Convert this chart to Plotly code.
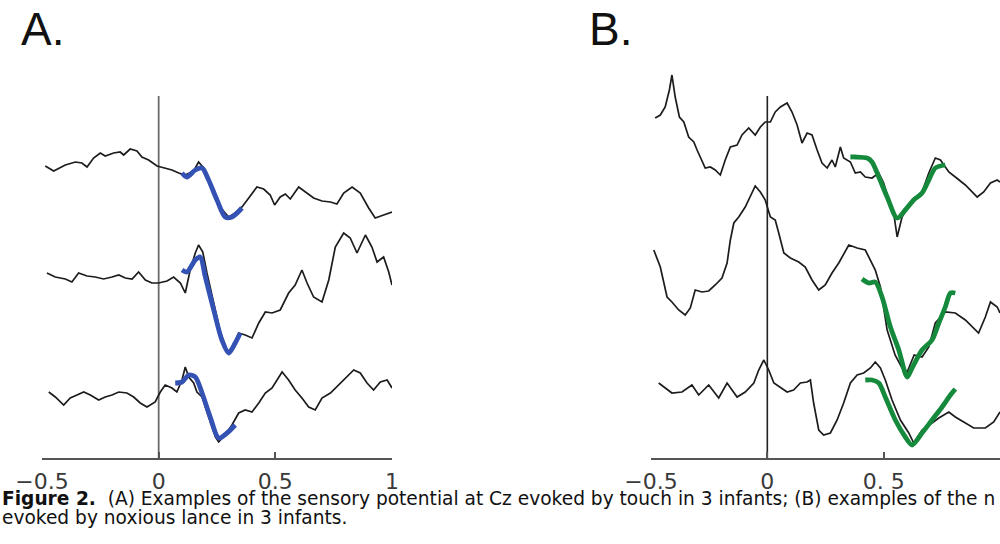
import plotly.graph_objects as go

# ---------------- DATA (time in s, amplitude in arbitrary display units) -------------
# Panel A : touch-evoked potentials (3 infants)
touch1_t = [-0.486, -0.450, -0.400, -0.357, -0.329, -0.307, -0.279, -0.250, -0.229, -0.193,
            -0.165, -0.150, -0.122, -0.093, -0.072, -0.043, -0.007, 0.021, 0.057, 0.086,
            0.114, 0.150, 0.171, 0.200, 0.228, 0.257, 0.285, 0.300, 0.328, 0.357,
            0.386, 0.421, 0.450, 0.478, 0.497, 0.521, 0.543, 0.564, 0.600, 0.628,
            0.664, 0.700, 0.736, 0.764, 0.793, 0.829, 0.864, 0.900, 0.928, 0.964, 1.000]
touch1_v = [292, 287, 293, 296, 295, 291, 300, 305, 302, 305,
            306, 303, 309, 307, 301, 298, 292, 290, 288, 285,
            283, 287, 296, 288, 271, 253, 245, 241, 245, 251,
            260, 271, 269, 263, 253, 261, 264, 259, 271, 266,
            260, 257, 256, 254, 265, 271, 265, 250, 240, 243, 246]
touch1_fit_t = [0.100, 0.121, 0.157, 0.186, 0.214, 0.250, 0.285, 0.314, 0.357]
touch1_fit_v = [285, 281, 288, 290, 278, 258, 241, 241, 250]

touch2_t = [-0.479, -0.443, -0.400, -0.372, -0.343, -0.307, -0.272, -0.236, -0.200, -0.171,
            -0.143, -0.114, -0.086, -0.057, -0.029, 0.000, 0.036, 0.064, 0.093, 0.114,
            0.135, 0.157, 0.171, 0.189, 0.207, 0.236, 0.264, 0.293, 0.314, 0.343,
            0.371, 0.400, 0.429, 0.457, 0.486, 0.521, 0.557, 0.585, 0.614, 0.636,
            0.664, 0.700, 0.729, 0.757, 0.793, 0.821, 0.850, 0.886, 0.914, 0.936,
            0.964, 0.986, 1.000]
touch2_v = [185, 181, 179, 176, 185, 182, 181, 179, 181, 183,
            180, 179, 186, 178, 175, 175, 177, 181, 175, 165,
            188, 205, 213, 206, 185, 155, 126, 106, 110, 125,
            123, 120, 135, 146, 145, 148, 165, 173, 188, 175,
            161, 156, 178, 211, 225, 220, 205, 223, 211, 196,
            201, 186, 173]
touch2_fit_t = [0.100, 0.121, 0.157, 0.178, 0.200, 0.236, 0.271, 0.300, 0.328, 0.350]
touch2_fit_v = [188, 186, 198, 201, 181, 148, 118, 105, 115, 125]

touch3_t = [-0.471, -0.443, -0.407, -0.379, -0.350, -0.321, -0.293, -0.257, -0.229, -0.200,
            -0.171, -0.136, -0.107, -0.079, -0.050, -0.015, 0.007, 0.028, 0.057, 0.078,
            0.100, 0.114, 0.129, 0.150, 0.164, 0.186, 0.214, 0.243, 0.257, 0.285,
            0.314, 0.343, 0.371, 0.400, 0.429, 0.457, 0.486, 0.514, 0.529, 0.557,
            0.585, 0.614, 0.643, 0.671, 0.700, 0.736, 0.771, 0.807, 0.836, 0.864,
            0.893, 0.921, 0.950, 0.979, 1.000]
touch3_v = [66, 61, 53, 60, 63, 66, 63, 58, 61, 63,
            66, 65, 61, 55, 51, 56, 66, 73, 70, 66,
            78, 91, 81, 75, 66, 61, 41, 21, 16, 23,
            33, 45, 48, 46, 55, 65, 70, 80, 86, 78,
            68, 60, 51, 48, 60, 65, 73, 81, 88, 85,
            75, 68, 76, 78, 70]
touch3_fit_t = [0.071, 0.100, 0.129, 0.157, 0.186, 0.221, 0.257, 0.293, 0.328]
touch3_fit_v = [75, 76, 83, 81, 65, 41, 20, 25, 33]

# Panel B : noxious lance-evoked potentials (3 infants)
lance1_t = [-0.482, -0.460, -0.439, -0.421, -0.410, -0.396, -0.378, -0.359, -0.338, -0.316,
            -0.302, -0.281, -0.267, -0.245, -0.224, -0.202, -0.181, -0.159, -0.130, -0.109,
            -0.080, -0.052, -0.030, -0.009, 0.013, 0.034, 0.056, 0.085, 0.106, 0.128,
            0.149, 0.171, 0.192, 0.214, 0.235, 0.257, 0.278, 0.292, 0.314, 0.328,
            0.357, 0.378, 0.400, 0.421, 0.450, 0.479, 0.500, 0.522, 0.543, 0.558,
            0.579, 0.622, 0.665, 0.694, 0.722, 0.744, 0.780, 0.808, 0.851, 0.902,
            0.930, 0.959, 0.988, 1.000]
lance1_v = [340, 343, 351, 368, 383, 361, 341, 336, 321, 316,
            308, 298, 290, 291, 288, 283, 298, 311, 313, 323,
            330, 323, 331, 336, 336, 346, 351, 355, 346, 333,
            315, 325, 323, 308, 295, 290, 298, 291, 311, 300,
            296, 285, 286, 281, 280, 285, 275, 258, 245, 221,
            241, 258, 266, 285, 300, 298, 286, 281, 273, 261,
            266, 275, 278, 276]
lance1_fit_t = [0.357, 0.378, 0.429, 0.450, 0.479, 0.515, 0.558, 0.593, 0.629, 0.665,
                0.694, 0.722, 0.765]
lance1_fit_v = [301, 301, 300, 296, 281, 261, 240, 248, 258, 265,
                278, 290, 293]

lance2_t = [-0.488, -0.460, -0.431, -0.410, -0.381, -0.353, -0.331, -0.310, -0.281, -0.252,
            -0.224, -0.195, -0.173, -0.159, -0.144, -0.123, -0.095, -0.073, -0.052, -0.030,
            -0.009, 0.013, 0.034, 0.049, 0.071, 0.099, 0.135, 0.163, 0.192, 0.221,
            0.249, 0.278, 0.307, 0.350, 0.386, 0.421, 0.443, 0.464, 0.486, 0.515,
            0.549, 0.579, 0.601, 0.631, 0.665, 0.694, 0.722, 0.765, 0.808, 0.851,
            0.908, 0.937, 0.959, 0.988, 1.000]
lance2_v = [208, 191, 161, 156, 148, 143, 150, 168, 166, 167,
            173, 180, 195, 218, 235, 241, 251, 261, 272, 266,
            258, 241, 238, 225, 205, 200, 196, 191, 178, 168,
            173, 185, 195, 213, 210, 208, 198, 188, 171, 128,
            103, 90, 86, 103, 101, 111, 135, 146, 145, 138,
            125, 141, 156, 151, 145]
lance2_fit_t = [0.407, 0.436, 0.464, 0.493, 0.529, 0.565, 0.601, 0.622, 0.665, 0.708,
                0.737, 0.765, 0.787, 0.808]
lance2_fit_v = [179, 175, 176, 161, 131, 108, 81, 90, 108, 118,
                135, 151, 165, 165]

lance3_t = [-0.467, -0.439, -0.410, -0.367, -0.324, -0.295, -0.252, -0.209, -0.173, -0.130,
            -0.095, -0.058, -0.037, -0.015, 0.006, 0.028, 0.056, 0.085, 0.113, 0.142,
            0.171, 0.185, 0.199, 0.221, 0.242, 0.271, 0.300, 0.328, 0.357, 0.386,
            0.414, 0.443, 0.464, 0.486, 0.507, 0.536, 0.572, 0.608, 0.629, 0.665,
            0.708, 0.737, 0.780, 0.808, 0.844, 0.887, 0.937, 0.973, 1.000]
lance3_v = [75, 70, 65, 66, 73, 63, 73, 60, 75, 61,
            66, 75, 88, 98, 88, 75, 71, 66, 68, 75,
            76, 78, 55, 28, 23, 25, 38, 55, 75, 83,
            85, 90, 96, 90, 78, 58, 38, 25, 15, 28,
            35, 40, 46, 41, 36, 30, 30, 36, 46]
lance3_fit_t = [0.421, 0.450, 0.479, 0.507, 0.550, 0.593, 0.622, 0.665, 0.708, 0.751,
                0.787, 0.808]
lance3_fit_v = [78, 78, 75, 61, 38, 21, 13, 25, 38, 51,
                63, 69]

x_ticks = [-0.5, 0, 0.5, 1]
a_tick_text = ["\u22120.5", "0", "0.5", "1"]
b_tick_text = ["\u22120.5", "0", "0. 5", "1"]
stim_line_v = [0, 362]

# ---------------- FIGURE ----------------
W, H = 1000, 544
BLACK = "#1c1c1c"
BLUE = "#3452b4"
GREEN = "#168a3c"

fig = go.Figure()

def add_trace_pair(t, v, ft, fv, color, xa, ya):
    fig.add_trace(go.Scatter(x=t, y=v, mode="lines", xaxis=xa, yaxis=ya,
                             line=dict(color=BLACK, width=1.7), showlegend=False,
                             hoverinfo="skip"))
    fig.add_trace(go.Scatter(x=ft, y=fv, mode="lines", xaxis=xa, yaxis=ya,
                             line=dict(color=color, width=4.8, shape="spline", smoothing=0.8),
                             showlegend=False, hoverinfo="skip"))

# stimulus lines at t = 0
fig.add_trace(go.Scatter(x=[0, 0], y=stim_line_v, mode="lines", xaxis="x", yaxis="y",
                         line=dict(color="#6a6a6a", width=1.8), showlegend=False, hoverinfo="skip"))
fig.add_trace(go.Scatter(x=[0, 0], y=stim_line_v, mode="lines", xaxis="x2", yaxis="y2",
                         line=dict(color="#222222", width=1.6), showlegend=False, hoverinfo="skip"))

add_trace_pair(touch1_t, touch1_v, touch1_fit_t, touch1_fit_v, BLUE, "x", "y")
add_trace_pair(touch2_t, touch2_v, touch2_fit_t, touch2_fit_v, BLUE, "x", "y")
add_trace_pair(touch3_t, touch3_v, touch3_fit_t, touch3_fit_v, BLUE, "x", "y")
add_trace_pair(lance1_t, lance1_v, lance1_fit_t, lance1_fit_v, GREEN, "x2", "y2")
add_trace_pair(lance2_t, lance2_v, lance2_fit_t, lance2_fit_v, GREEN, "x2", "y2")
add_trace_pair(lance3_t, lance3_v, lance3_fit_t, lance3_fit_v, GREEN, "x2", "y2")

y_dom = [(H - 458) / H, (H - 60) / H]
tick_font = dict(family="DejaVu Sans, sans-serif", size=22, color="#3a3a3a")

xcommon = dict(range=[-0.5, 1], showgrid=False, zeroline=False, showline=True,
               linecolor="#555555", linewidth=2, ticks="inside", ticklen=6, tickwidth=2,
               tickcolor="#555555", tickvals=x_ticks, tickfont=tick_font, fixedrange=True,
               automargin=False, ticklabelstandoff=3)
ycommon = dict(range=[0, 398], domain=y_dom, visible=False, fixedrange=True, automargin=False)

fig.update_layout(
    template="none",
    width=W, height=H,
    margin=dict(l=0, r=0, t=0, b=0, pad=0, autoexpand=False),
    paper_bgcolor="white", plot_bgcolor="white",
    xaxis=dict(domain=[42 / W, 392 / W], anchor="y", ticktext=a_tick_text, **xcommon),
    yaxis=dict(anchor="x", **ycommon),
    xaxis2=dict(domain=[651 / W, 1.0], anchor="y2", ticktext=b_tick_text, **xcommon),
    yaxis2=dict(anchor="x2", **ycommon),
)

ann_font = "Liberation Sans, Arial, sans-serif"
fig.add_annotation(text="A.", x=19 / W, y=1 - 29 / H, xref="paper", yref="paper",
                   xanchor="left", yanchor="middle", showarrow=False,
                   font=dict(family=ann_font, size=46, color="#111111"))
fig.add_annotation(text="B.", x=587 / W, y=1 - 29 / H, xref="paper", yref="paper",
                   xanchor="left", yanchor="middle", showarrow=False,
                   font=dict(family=ann_font, size=46, color="#111111"))
cap_font = dict(family="DejaVu Sans, sans-serif", size=18.6, color="#111111")
fig.add_annotation(
    text="<b>Figure 2.</b>  (A) Examples of the sensory potential at Cz evoked by touch in 3 infants; (B) examples of the n",
    x=0, y=1 - 498 / H, xref="paper", yref="paper", xanchor="left", yanchor="middle",
    showarrow=False, font=cap_font)
fig.add_annotation(
    text="evoked by noxious lance in 3 infants.",
    x=0, y=1 - 517 / H, xref="paper", yref="paper", xanchor="left", yanchor="middle",
    showarrow=False, font=cap_font)

fig.write_html("out.html", config=dict(displayModeBar=False),
               post_script="document.body.style.margin='0';document.body.style.overflow='hidden';")
